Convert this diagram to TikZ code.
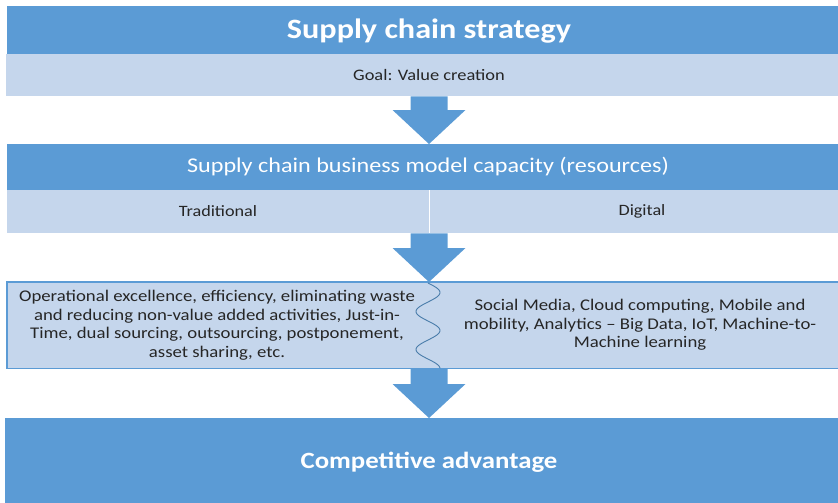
\documentclass[tikz,border=0pt]{standalone}
\usepackage{fontspec}
\setmainfont{Carlito}[FakeStretch=1.15]
\usetikzlibrary{calc}

\definecolor{sblue}{HTML}{5B9BD5}
\definecolor{slight}{HTML}{C5D6EC}
\definecolor{stext}{HTML}{262626}

\tikzset{
  darkbox/.style={fill=sblue, text=white, minimum width=831, inner sep=0pt, anchor=north west},
  lightbox/.style={fill=slight, text=stext, inner sep=0pt, anchor=north west},
  bodytext/.style={text=stext, align=center, font=\fontsize{16.3}{18.5}\selectfont}
}

% block arrow from the bottom of #1 down to the top of #2
\newcommand{\blockarrow}[2]{
  \fill [sblue] ($(#1.south -| axis)+(-18.5,0)$) -- ($(#1.south -| axis)+(18.5,0)$)
    -- ($(#2.north -| axis)+(18.5,-34)$) -- ($(#2.north -| axis)+(36.5,-34)$)
    -- (#2.north -| axis) -- ($(#2.north -| axis)+(-36.5,-34)$)
    -- ($(#2.north -| axis)+(-18.5,-34)$) -- cycle;
}

\begin{document}
\begin{tikzpicture}[x=1pt, y=-1pt]
    \useasboundingbox (0,0) rectangle (838,503);
    \coordinate (axis) at (429,0);
    % strategy
    \node [darkbox, minimum height=48] (strategy) at (7,6) {};
    \node [text=white, font=\fontsize{28}{30}\selectfont\bfseries] (strategytxt) at (429,31) {Supply chain strategy};
    \node [lightbox, minimum width=832, minimum height=42] (goal) at (6,54) {};
    \node [text=stext, font=\fontsize{16}{18}\selectfont] (goaltxt) at (429,75) {Goal: Value creation};
    % business model capacity
    \node [darkbox, minimum height=46] (capacity) at (7,144) {};
    \node [text=white, font=\fontsize{21}{24}\selectfont] (capacitytxt) at (428,167) {Supply chain business model capacity (resources)};
    \node [lightbox, minimum width=422, minimum height=43] (trad) at (7,190) {};
    \node [lightbox, minimum width=409, minimum height=43] (digi) at (429,190) {};
    \draw [white, line width=0.6] (trad.north east) -- (trad.south east);
    \node [text=stext, font=\fontsize{15.8}{18}\selectfont] (tradtxt) at (218,211.5) {Traditional};
    \node [text=stext, font=\fontsize{15.8}{18}\selectfont] (digitxt) at (642,211.5) {Digital};
    % resources
    \node [lightbox, minimum width=831, minimum height=86] (resources) at (7,282) {};
    \draw [sblue, line width=1.6] (resources.north east) -- (resources.north west)
      -- (resources.south west) -- (resources.south east);
    \draw [sblue!80!black, line width=0.9] plot [domain=0:88, samples=90, smooth, variable=\t]
      ({428+12*sin(9.47*\t)}, {283+\t});
    \node [bodytext] (tradlist) at (217,325) {Operational excellence, efficiency, eliminating waste\\ and reducing non-value added activities, Just-in-\\ Time, dual sourcing, outsourcing, postponement,\\ asset sharing, etc.};
    \node [bodytext] (digilist) at (640,325) {Social Media, Cloud computing, Mobile and\\ mobility, Analytics -- Big Data, IoT, Machine-to-\\ Machine learning};
    % advantage
    \node [darkbox, minimum width=833, minimum height=85] (advantage) at (5,418) {};
    \node [text=white, font=\fontsize{23.3}{26}\selectfont\bfseries] (advantagetxt) at (429,462) {Competitive advantage};
    % arrows
    \blockarrow{goal}{capacity}
    \blockarrow{trad}{resources}
    \blockarrow{resources}{advantage}
\end{tikzpicture}
\end{document}
